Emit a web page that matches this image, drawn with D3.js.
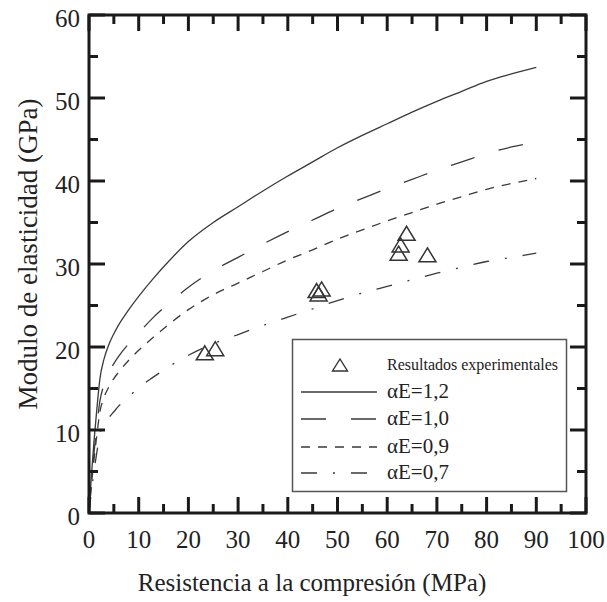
<!DOCTYPE html>
<html>
<head>
<meta charset="utf-8">
<script src="https://cdn.jsdelivr.net/npm/d3@7/dist/d3.min.js"></script>
<style>
  html, body { margin: 0; padding: 0; background: #fff; }
  svg { display: block; }
</style>
</head>
<body>
<svg id="chart" width="607" height="602"></svg>
<script>
// Compressive strength (MPa) sampled along the curves
const strength = [0, 0.5, 1, 1.5, 2.2, 3, 4, 5, 6, 8, 10, 13, 16, 20, 25, 30, 35, 40, 45, 50, 55, 60, 65, 70, 75, 80, 85, 90];

// Elastic modulus (GPa) for each alpha_E factor
const modulusA12 = [0, 4.6, 8.6, 12.0, 16.2, 18.5, 20.3, 21.6, 22.7, 24.5, 26.1, 28.3, 30.3, 32.7, 35.0, 36.9, 38.8, 40.6, 42.3, 44.0, 45.5, 46.9, 48.3, 49.6, 50.8, 52.0, 52.9, 53.7];
const modulusA10 = [0, 3.8, 7.2, 10.0, 13.5, 15.4, 16.9, 18.0, 18.9, 20.4, 21.7, 23.6, 25.2, 27.2, 29.2, 30.8, 32.4, 33.9, 35.3, 36.7, 37.9, 39.1, 40.2, 41.3, 42.3, 43.3, 44.1, 44.7];
const modulusA09 = [0, 3.4, 6.4, 9.0, 12.2, 13.9, 15.2, 16.2, 17.0, 18.4, 19.6, 21.2, 22.7, 24.5, 26.3, 27.7, 29.1, 30.5, 31.7, 33.0, 34.1, 35.2, 36.2, 37.2, 38.1, 39.0, 39.7, 40.3];
const modulusA07 = [0, 2.7, 5.0, 7.0, 9.5, 10.7, 11.5, 12.2, 12.9, 14.0, 15.1, 16.4, 17.6, 19.0, 20.4, 21.5, 22.6, 23.6, 24.6, 25.6, 26.5, 27.3, 28.1, 28.9, 29.6, 30.3, 30.8, 31.3];

// Experimental results
const expStrength = [23.3, 25.4, 45.8, 46.2, 46.8, 62.3, 62.7, 63.9, 68.1];
const expModulus  = [19.3, 19.8, 26.8, 26.4, 27.0, 31.3, 32.3, 33.7, 31.1];

// Tick values
const xMajor = [0, 10, 20, 30, 40, 50, 60, 70, 80, 90, 100];
const yMajor = [0, 10, 20, 30, 40, 50, 60];
const xMinor = [5, 15, 25, 35, 45, 55, 65, 75, 85, 95];
const yMinor = [5, 15, 25, 35, 45, 55];

const legendLabels = ["Resultados experimentales", "\u03B1E=1,2", "\u03B1E=1,0", "\u03B1E=0,9", "\u03B1E=0,7"];
const xTitle = "Resistencia a la compresión (MPa)";
const yTitle = "Modulo de elasticidad (GPa)";

const series = [
  { values: modulusA12, dash: null },
  { values: modulusA10, dash: "25,25" },
  { values: modulusA09, dash: "9,8" },
  { values: modulusA07, dash: "16,16,2,16" }
];

const serif = "'Liberation Serif', Tinos, 'Times New Roman', Times, 'DejaVu Serif', serif";

const svg = d3.select("#chart");
const margin = { left: 89, right: 21, top: 15, bottom: 89 };
const W = 607, H = 602;
const x = d3.scaleLinear().domain([0, 100]).range([margin.left, W - margin.right]);
const y = d3.scaleLinear().domain([0, 60]).range([H - margin.bottom, margin.top]);

const ink = "#1a1a1a";
const curveInk = "#3a3a3a";

// Curves
const line = d3.line()
  .x(d => x(d[0]))
  .y(d => y(d[1]))
  .curve(d3.curveMonotoneX);

series.forEach(s => {
  const pts = strength.map((f, i) => [f, s.values[i]]);
  svg.append("path")
    .attr("d", line(pts))
    .attr("fill", "none")
    .attr("stroke", curveInk)
    .attr("stroke-width", 1.3)
    .attr("stroke-dasharray", s.dash);
});

// Triangle marker centred at (cx, cy)
function tri(cx, cy, w, h) {
  return `M${cx},${cy - h / 2}L${cx + w / 2},${cy + h / 2}L${cx - w / 2},${cy + h / 2}Z`;
}

svg.append("g").selectAll("path")
  .data(expStrength.map((f, i) => [f, expModulus[i]]))
  .join("path")
  .attr("d", d => tri(x(d[0]), y(d[1]), 17, 14))
  .attr("fill", "none")
  .attr("stroke", "#333")
  .attr("stroke-width", 1.5);

// Frame and inward ticks on all four sides
const majorLen = 16, minorLen = 9;
const axes = svg.append("g").attr("stroke", ink).attr("stroke-width", 3);

function ticks(values, len) {
  values.forEach(v => {
    axes.append("line").attr("x1", x(v)).attr("x2", x(v)).attr("y1", y(0)).attr("y2", y(0) - len);
    axes.append("line").attr("x1", x(v)).attr("x2", x(v)).attr("y1", y(60)).attr("y2", y(60) + len);
  });
}
function yticks(values, len) {
  values.forEach(v => {
    axes.append("line").attr("y1", y(v)).attr("y2", y(v)).attr("x1", x(0)).attr("x2", x(0) + len);
    axes.append("line").attr("y1", y(v)).attr("y2", y(v)).attr("x1", x(100)).attr("x2", x(100) - len);
  });
}
ticks(xMajor, majorLen);
ticks(xMinor, minorLen);
yticks(yMajor, majorLen);
yticks(yMinor, minorLen);

axes.append("rect")
  .attr("x", x(0)).attr("y", y(60))
  .attr("width", x(100) - x(0)).attr("height", y(0) - y(60))
  .attr("fill", "none");

const txt = g => g.attr("font-family", serif).attr("fill", "#222");

// Tick labels
svg.append("g").call(txt).selectAll("text")
  .data(xMajor)
  .join("text")
  .attr("x", d => x(d))
  .attr("y", y(0) + 35)
  .attr("text-anchor", "middle")
  .attr("font-size", 25)
  .text(d => d);

svg.append("g").call(txt).selectAll("text")
  .data(yMajor)
  .join("text")
  .attr("x", x(0) - 9)
  .attr("y", d => y(d) + 11.5)
  .attr("text-anchor", "end")
  .attr("font-size", 25)
  .text(d => d);

// Axis titles
svg.append("text").call(txt)
  .attr("x", 312)
  .attr("y", 591)
  .attr("text-anchor", "middle")
  .attr("font-size", 25)
  .text(xTitle);

svg.append("text").call(txt)
  .attr("transform", "translate(37,254) rotate(-90)")
  .attr("text-anchor", "middle")
  .attr("font-size", 27)
  .text(yTitle);

// Legend
const lg = svg.append("g").call(txt);
lg.append("rect")
  .attr("x", 292.5).attr("y", 339.5)
  .attr("width", 274).attr("height", 152)
  .attr("fill", "#fff")
  .attr("stroke", "#555")
  .attr("stroke-width", 1.5);

lg.append("path")
  .attr("d", tri(340, 365, 15, 12))
  .attr("fill", "none")
  .attr("stroke", "#333")
  .attr("stroke-width", 1.4);

lg.append("text")
  .attr("x", 387).attr("y", 370)
  .attr("font-size", 16)
  .text(legendLabels[0]);

const rowY = [392, 419, 447, 473];
series.forEach((s, i) => {
  lg.append("line")
    .attr("x1", 301).attr("x2", 377)
    .attr("y1", rowY[i]).attr("y2", rowY[i])
    .attr("stroke", curveInk)
    .attr("stroke-width", 1.3)
    .attr("stroke-dasharray", s.dash);
  lg.append("text")
    .attr("x", 387).attr("y", rowY[i] + 6)
    .attr("font-size", 21)
    .text(legendLabels[i + 1]);
});
</script>
</body>
</html>
